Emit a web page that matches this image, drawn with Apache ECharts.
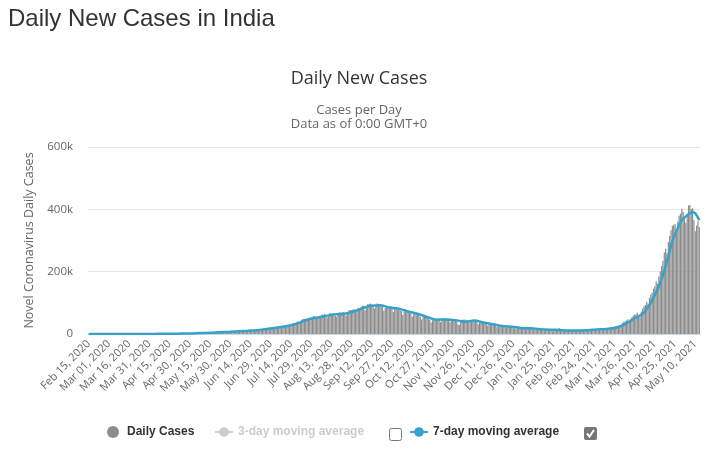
<!DOCTYPE html>
<html><head><meta charset="utf-8">
<script src="https://cdn.jsdelivr.net/npm/echarts/dist/echarts.min.js"></script>
<style>html,body{margin:0;padding:0;background:#fff}#chart{width:709px;height:452px}</style>
</head><body><div id="chart"></div>
<script>
// ---- data ----
const startDate = '2020-02-15';
const monthNames = ['Jan','Feb','Mar','Apr','May','Jun','Jul','Aug','Sep','Oct','Nov','Dec'];
const dailyCases = [
  // Feb 15-29, 2020
  0,0,0,0,0,0,0,0,0,0,0,0,0,0,0,
  // Mar 2020
  0,2,1,22,2,1,3,5,4,12, 11,12,7,18,27,12,23,14,43,63, 79,73,97,63,73,80,143,142,103,202,227,
  // Apr 2020
  437,486,560,579,609,484,573,565,813,871, 854,758,1243,1031,886,1061,922,1371,1580,1239, 1537,1292,1667,1408,1835,1607,1568,1902,1705,1801,
  // May 2020
  2396,2564,2952,3656,2971,3602,3344,3339,3175,4311, 3592,3562,3726,3991,3808,4794,5050,4628,6147,5553, 6198,6568,6629,7111,6414,6387,6535,7246,7254,8138,8336,
  // Jun 2020
  8171,8821,9633,9889,9471,10438,10864,8442,9983,10882, 11156,11929,11320,12023,11502,10667,13103,13586,14516,15413, 14821,14933,15968,16922,17296,18552,19906,19459,18522,18653,
  // Jul 2020
  19148,21947,22718,24018,24248,22252,22752,24879,26506,27114, 28637,29108,28178,29917,32607,35468,34820,37411,40235,36810, 39170,45601,49310,48916,48661,49931,46484,49632,52479,54968,57486,
  // Aug 2020
  55117,52972,52050,51282,56626,62170,61455,65156,62117,53016, 61252,66999,64142,65002,63986,57981,55018,64572,69672,68900, 69874,70067,61749,59696,67151,75760,77266,76665,78512,79457,69921,
  // Sep 2020
  78357,83883,83341,86432,90632,90802,75809,89706,95735,96551, 97570,94372,92071,81911,90123,97894,96424,93337,92605,87382, 74493,83347,86508,86052,85362,88600,82170,70589,80472,86821,
  // Oct 2020
  81484,79476,75829,74442,61267,72049,78524,70496,73272,74383, 66732,55342,63509,67708,63371,62212,61871,55722,46790,54044, 55839,53370,54366,50129,45148,36470,43893,49881,48648,48268,46963,
  // Nov 2020
  45231,38310,46253,50210,47638,50357,45674,45903,38073,44281, 47905,44879,44878,41100,30548,29164,38617,45576,45882,46232, 45209,44059,37975,44376,44489,43082,41322,41810,38772,31118,
  // Dec 2020
  36604,35551,36594,36652,36011,32981,26567,32080,31522,29398, 30006,30254,27071,22065,26382,24010,22890,25152,26624,24337, 19556,23950,24712,23067,22272,18732,20021,16432,20549,21822,20035,
  // Jan 2021
  19079,18177,16504,18088,20346,18139,18222,18645,16311,12584, 15968,16946,15590,15158,15144,13788,10064,13823,15223,14545, 14256,14849,13203,9102,12689,11666,12537,13083,18855,13052,11427,
  // Feb 2021
  8635,11039,12899,11713,12059,12408,11831,9110,11067,12923, 11610,12194,12143,11649,9121,11610,12881,13193,13993,14264, 14199,10584,13742,16738,16577,16488,16752,15510,
  // Mar 2021
  12286,14989,17407,18327,18711,18599,18650,15388,17921,22854, 23285,24882,25320,26291,24492,28903,35871,39726,40953,43846, 46951,40715,47262,53476,59118,62258,62714,68020,56211,53480,72330,
  // Apr 2021
  81466,89129,93249,103558,96982,115736,126789,131968,145384,152879, 168912,161736,184372,200739,217353,234692,261500,273810,259170,295041, 314835,332730,346786,349691,352991,323144,360960,379257,386452,401993,
  // May 1-13, 2021
  392488,368147,357229,382315,412262,414188,401078,403738,366161,329942,348421,362727,343144
];
const avg7Dates = [
  '2020-02-15','2020-02-21','2020-02-28','2020-03-06','2020-03-13','2020-03-20','2020-03-27',
  '2020-04-03','2020-04-10','2020-04-17','2020-04-24','2020-05-01','2020-05-08','2020-05-15',
  '2020-05-22','2020-05-29','2020-06-05','2020-06-12','2020-06-19','2020-06-26','2020-07-03',
  '2020-07-10','2020-07-17','2020-07-24','2020-07-31','2020-08-07','2020-08-14','2020-08-21',
  '2020-08-28','2020-09-04','2020-09-11','2020-09-18','2020-09-25','2020-10-02','2020-10-09',
  '2020-10-16','2020-10-23','2020-10-30','2020-11-06','2020-11-13','2020-11-20','2020-11-27',
  '2020-12-04','2020-12-11','2020-12-18','2020-12-25','2021-01-01','2021-01-08','2021-01-15',
  '2021-01-22','2021-01-29','2021-02-05','2021-02-12','2021-02-19','2021-02-26','2021-03-05',
  '2021-03-12','2021-03-19','2021-03-23','2021-03-26','2021-03-30','2021-04-02','2021-04-06',
  '2021-04-09','2021-04-13','2021-04-16','2021-04-20','2021-04-23','2021-04-27','2021-04-30',
  '2021-05-04','2021-05-07','2021-05-08','2021-05-10','2021-05-13'
];
const avg7Values = [
  0,0,0,4,8,29,87,
  308,642,965,1442,1831,3204,3738,
  5563,6797,8923,10528,12388,16272,20050,
  24538,31248,42493,51377,55953,62526,64286,
  69765,79986,90972,92305,85107,81373,72268,
  64751,54572,46062,46423,44513,39588,42930,
  36729,31224,25403,23503,19524,18303,15386,
  13793,13019,11546,11592,12084,14656,16283,
  20226,31651,42189,50518,59325,69050,93207,
  116238,153149,188669,248901,297696,340162,364927,
  381126,389672,391280,387098,365030
];
const avg3Values = [];
const yTickValues = [0, 200000, 400000, 600000];
const yTickLabels = ['0', '200k', '400k', '600k'];

// ---- build ----
const DAY = 86400000;
const t0 = Date.parse(startDate + 'T00:00:00Z');
const categories = dailyCases.map((_, i) => {
  const d = new Date(t0 + i * DAY);
  return monthNames[d.getUTCMonth()] + ' ' + String(d.getUTCDate()).padStart(2, '0') + ', ' + d.getUTCFullYear();
});
const avg7Data = avg7Dates.map((s, i) => [Math.round((Date.parse(s + 'T00:00:00Z') - t0) / DAY), avg7Values[i]]);

const FONT = 'Open Sans';
const chart = echarts.init(document.getElementById('chart'));
chart.setOption({
  animation: false,
  backgroundColor: '#fff',
  title: [
    { text: 'Daily New Cases in India', left: 8, top: 7, padding: 0,
      textStyle: { fontFamily: 'Liberation Sans', fontSize: 24, fontWeight: 'normal', color: '#333' } },
    { text: 'Daily New Cases', subtext: 'Cases per Day\nData as of 0:00 GMT+0',
      left: 359, textAlign: 'center', top: 70, padding: 0, itemGap: 15,
      textStyle: { fontFamily: FONT, fontSize: 18, fontWeight: 'normal', color: '#333' },
      subtextStyle: { fontFamily: FONT, fontSize: 13, color: '#666', lineHeight: 14.5 } }
  ],
  legend: [
    { data: ['Daily Cases'], left: 107, top: 426, padding: 0, itemWidth: 12, itemHeight: 12, icon: 'circle',
      textStyle: { fontFamily: 'Liberation Sans', fontWeight: 'bold', fontSize: 12, color: '#333', padding: [0, 0, 0, 3] } },
    { data: ['3-day moving average'], left: 214, top: 426, padding: 0, itemWidth: 18, itemHeight: 12,
      selected: { '3-day moving average': false }, inactiveColor: '#ccc',
      textStyle: { fontFamily: 'Liberation Sans', fontWeight: 'bold', fontSize: 12, color: '#333' } },
    { data: ['7-day moving average'], left: 409, top: 426, padding: 0, itemWidth: 18, itemHeight: 12,
      textStyle: { fontFamily: 'Liberation Sans', fontWeight: 'bold', fontSize: 12, color: '#333' } }
  ],
  graphic: [
    { type: 'rect', shape: { x: 389.5, y: 428.5, width: 12, height: 12, r: 2 }, style: { fill: '#fff', stroke: '#767676', lineWidth: 1 } },
    { type: 'rect', shape: { x: 584, y: 427, width: 13, height: 13, r: 2 }, style: { fill: '#767676' } },
    { type: 'polyline', shape: { points: [[587, 433.5], [589.5, 436.5], [594, 430]] }, style: { stroke: '#fff', lineWidth: 2, fill: null } }
  ],
  grid: { left: 88, right: 9, top: 147, bottom: 118 },
  xAxis: {
    type: 'category', data: categories, boundaryGap: true,
    axisLine: { lineStyle: { color: '#ccd6eb', width: 1 } },
    axisTick: { show: false },
    axisLabel: { interval: 14, rotate: 45, color: '#666', fontSize: 11, fontFamily: FONT, margin: 8, hideOverlap: false },
    splitLine: { show: false }
  },
  yAxis: {
    type: 'value', min: 0, max: 600000, interval: 200000,
    name: 'Novel Coronavirus Daily Cases', nameLocation: 'middle', nameGap: 50,
    nameTextStyle: { color: '#666', fontSize: 12.5, fontFamily: FONT },
    axisLine: { show: false }, axisTick: { show: false },
    axisLabel: { color: '#666', fontSize: 11.5, fontFamily: FONT, margin: 15,
      formatter: v => yTickLabels[yTickValues.indexOf(v)] },
    splitLine: { lineStyle: { color: '#e6e6e6', width: 1 } }
  },
  series: [
    { name: 'Daily Cases', type: 'bar', data: dailyCases, barCategoryGap: '12%',
      itemStyle: { color: '#8c8c8c' }, z: 1, silent: true },
    { name: '3-day moving average', type: 'line', data: avg3Values, symbol: 'circle', symbolSize: 5,
      showSymbol: false, itemStyle: { color: '#ccc' }, lineStyle: { color: '#ccc', width: 2 } },
    { name: '7-day moving average', type: 'line', data: avg7Data, smooth: 0.35, symbol: 'circle', symbolSize: 5,
      showSymbol: false, itemStyle: { color: '#35A3C9' }, lineStyle: { color: '#35A3C9', width: 2.5 }, z: 3, silent: true }
  ]
});
</script>
</body></html>
